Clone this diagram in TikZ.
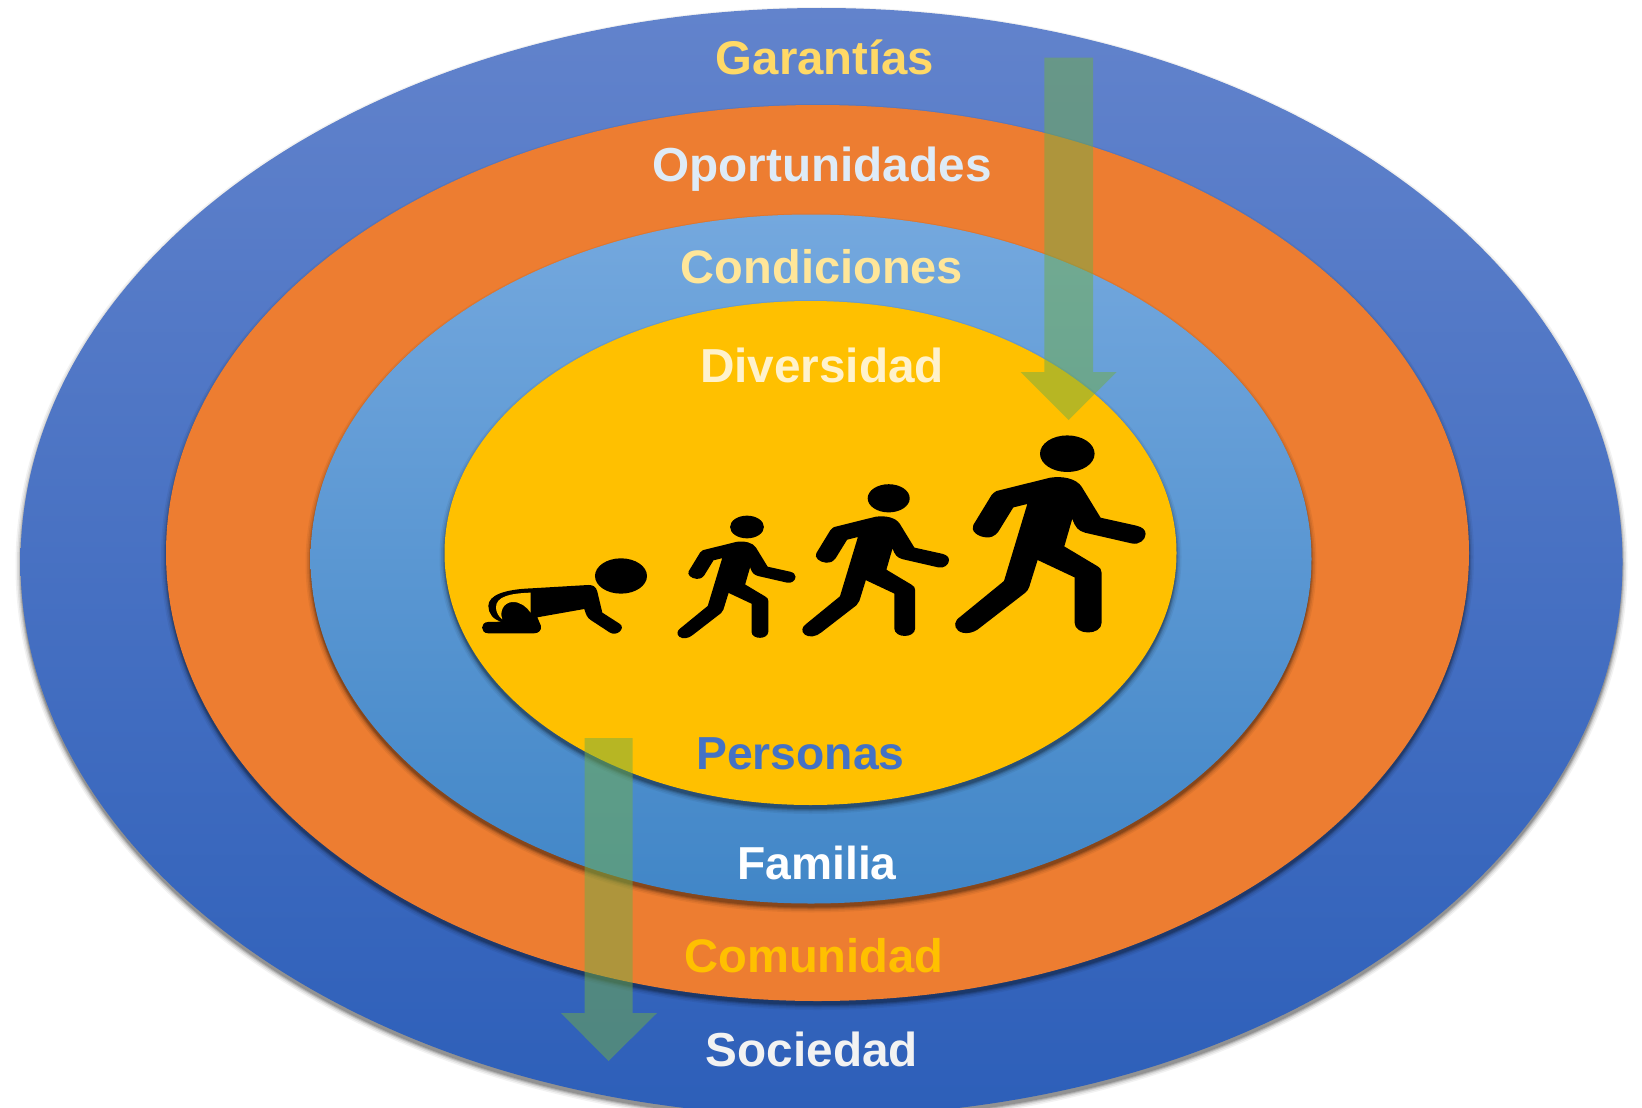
\documentclass[tikz,border=0pt]{standalone}
\usepackage{fontspec}
\setmainfont{Liberation Sans}
\tikzset{
  x=1pt,y=-1pt,
  lbl/.style={font=\fontsize{#1}{#1}\selectfont\bfseries,inner sep=0pt,anchor=center},
  lbl/.default=47.5,
  flow/.style={fill={rgb,255:red,112;green,173;blue,71},fill opacity=0.5,draw=none},
  ink/.style={fill=black,draw=none},
}
\definecolor{outerT}{HTML}{6283CC}
\definecolor{outerB}{HTML}{2D5FB9}
\definecolor{lblueT}{HTML}{74A8DE}
\definecolor{lblueB}{HTML}{4186C7}
\definecolor{orng}{HTML}{ED7D31}
\definecolor{gold}{HTML}{FFC000}
\newcommand{\softshadow}[4]{%
  \foreach \g/\o in {5/0.05,3.5/0.07,2/0.10,1/0.13,0/0.16}{%
    \fill[black,opacity=\o] (#1,#2+4) ellipse [x radius=#3+\g,y radius=#4+\g];}}
\newcommand{\runner}[3]{%
  \begin{scope}[shift={(#1,#2)},scale=#3]
   \fill[ink] (0,0) ellipse [x radius=27.3,y radius=18.3];
   \fill[ink] (-17.3,24)
     .. controls (-4,22) and (9,25) .. (14.3,33)
     -- (33.3,64) -- (69.3,72)
     .. controls (75,73.5) and (78.3,76) .. (78.3,80.3)
     .. controls (78.3,86) and (72,91.5) .. (64.3,89.7)
     -- (17.7,79) .. controls (11,77) and (8,74) .. (5,65)
     -- (-3,92.7)
     -- (29.3,112) .. controls (33,114) and (34.3,116) .. (34.3,119)
     -- (34.3,169) .. controls (34.3,182) and (7.3,182) .. (7.3,169)
     -- (7.3,123.7) -- (-29.7,106.3)
     -- (-38,133) .. controls (-39,136) and (-40,137) .. (-42,139)
     -- (-87.3,174)
     .. controls (-94,180) and (-104,181) .. (-109,177)
     .. controls (-114,173) and (-113,167) .. (-107,163)
     -- (-63.3,127.3)
     -- (-40,50.3) -- (-54,53.7)
     -- (-69,78) .. controls (-73,83) and (-77,84) .. (-81,83.7)
     .. controls (-90,83) and (-97,77) .. (-94,71.3)
     -- (-75.7,41.3) .. controls (-73,38.5) and (-72,38) .. (-70.7,37.3)
     -- cycle;
  \end{scope}}
\begin{document}
\begin{tikzpicture}
\useasboundingbox (0,0) rectangle (1642,1108);
\fill[white] (0,0) rectangle (1642,1108);
% rings
\softshadow{821.5}{562}{801}{554}
\begin{scope}
 \path[clip] (821.5,562) ellipse [x radius=801,y radius=554];
 \shade[bottom color=outerB,top color=outerT] (0,8) rectangle (1642,1116);
\end{scope}
\softshadow{817.5}{553}{651.5}{448}
\fill[orng] (817.5,553) ellipse [x radius=651.5,y radius=448];
\softshadow{811}{559}{500.5}{344.5}
\begin{scope}
 \path[clip] (811,559) ellipse [x radius=500.5,y radius=344.5];
 \shade[bottom color=lblueB,top color=lblueT] (300,214) rectangle (1320,904);
\end{scope}
\softshadow{810.5}{553}{366}{252}
\fill[gold] (810.5,553) ellipse [x radius=366,y radius=252];
% labels
\node[lbl=47.3,text={rgb,255:red,255;green,217;blue,102}] (garantias) at (825,57) {Garantías};
\node[lbl=47.7,text={rgb,255:red,222;green,235;blue,247}] (oportunidades) at (822,169) {Oportunidades};
\node[lbl=47,text={rgb,255:red,255;green,230;blue,153}] (condiciones) at (822,267) {Condiciones};
\node[lbl=47.7,text={rgb,255:red,255;green,242;blue,204}] (diversidad) at (822,365) {Diversidad};
\node[lbl=46.3,text={rgb,255:red,68;green,114;blue,196}] (personas) at (800.5,754) {Personas};
\node[lbl=46.2,text=white] (familia) at (817,863) {Familia};
\node[lbl=47.1,text=gold] (comunidad) at (814,956) {Comunidad};
\node[lbl=47.7,text={rgb,255:red,242;green,242;blue,242}] (sociedad) at (812,1049) {Sociedad};
% flow arrows
\fill[flow] (1044.3,57.7) -- (1093,57.7) -- (1093,372) -- (1116.7,372) -- (1068.7,420) -- (1020.7,372) -- (1044.3,372) -- cycle;
\fill[flow] (584.5,738) -- (632.5,738) -- (632.5,1013) -- (657,1013) -- (608.5,1061) -- (561,1013) -- (584.5,1013) -- cycle;
% runners
\runner{1067.3}{453.7}{1}
\runner{888.7}{498.3}{0.77}
\runner{747}{527}{0.62}
% crawling child
\begin{scope}[shift={(460,420)},scale=0.3333]
 \fill[ink] (483,468) ellipse [x radius=78,y radius=53];
 \fill[ink] (215,505) -- (385,495) .. controls (400,495) and (408,500) .. (412,515)
   -- (427,578) -- (480,612) .. controls (497,625) and (472,650) .. (450,638)
   -- (392,600) .. controls (382,593) and (378,585) .. (373,567)
   -- (232,592) -- (243,618) .. controls (245,632) and (235,640) .. (222,640)
   -- (85,640) .. controls (60,640) and (60,606) .. (85,606) -- (125,605)
   .. controls (100,600) and (85,580) .. (85,558)
   .. controls (85,525) and (135,508) .. (215,505) -- cycle;
 \fill[gold] (212,518) .. controls (150,520) and (108,530) .. (108,562)
   .. controls (108,575) and (115,590) .. (127,598)
   .. controls (118,575) and (130,548) .. (157,546)
   .. controls (180,545) and (200,560) .. (212,578) -- cycle;
\end{scope}
\end{tikzpicture}
\end{document}
